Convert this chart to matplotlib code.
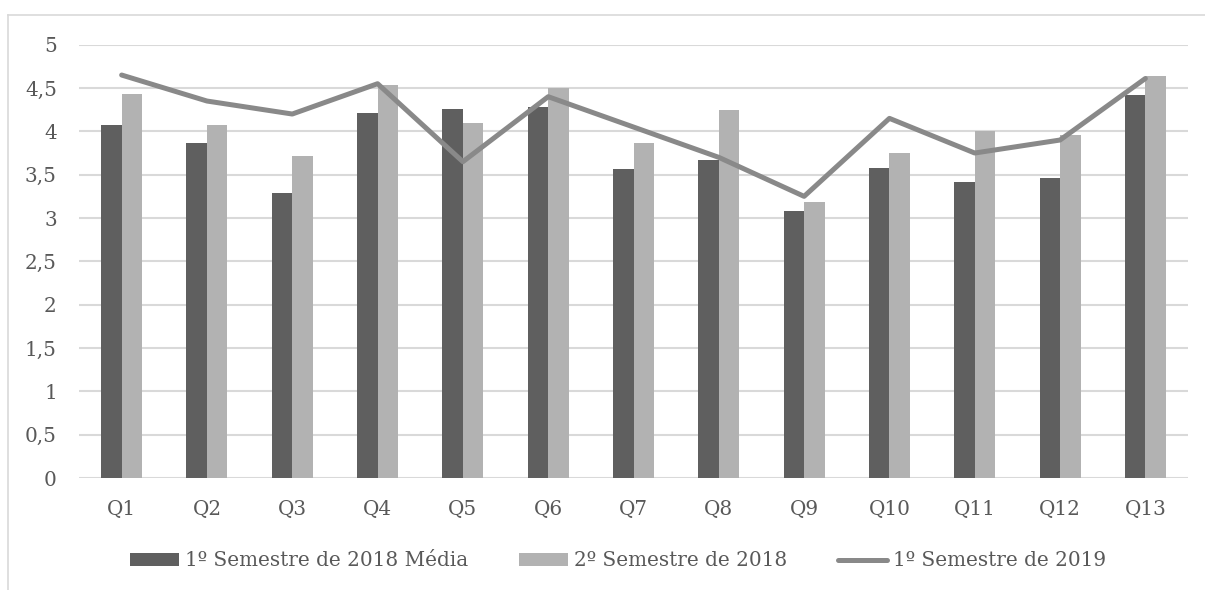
import matplotlib
matplotlib.use("Agg")
import matplotlib.pyplot as plt
import numpy as np
from matplotlib.lines import Line2D

categories = ["Q1", "Q2", "Q3", "Q4", "Q5", "Q6", "Q7", "Q8", "Q9", "Q10", "Q11", "Q12", "Q13"]
sem1_2018 = [4.07, 3.87, 3.29, 4.21, 4.26, 4.28, 3.57, 3.67, 3.08, 3.58, 3.42, 3.46, 4.42]
sem2_2018 = [4.43, 4.07, 3.71, 4.53, 4.10, 4.50, 3.86, 4.25, 3.18, 3.75, 4.00, 3.96, 4.64]
sem1_2019 = [4.65, 4.35, 4.20, 4.55, 3.65, 4.40, 4.05, 3.70, 3.25, 4.15, 3.75, 3.90, 4.61]
series_names = ["1º Semestre de 2018 Média", "2º Semestre de 2018", "1º Semestre de 2019"]
y_ticks = [0, 0.5, 1, 1.5, 2, 2.5, 3, 3.5, 4, 4.5, 5]

TEXT = "#595959"
GRID = "#d9d9d9"
DARK = "#5f5f5f"
LIGHT = "#b2b2b2"
LINE = "#898989"
FS = 14.4

plt.rcParams["font.family"] = ["DejaVu Serif"]

fig = plt.figure(figsize=(12.05, 5.90), dpi=100)
ax = fig.add_axes([79 / 1205, 1 - 478 / 590, (1188 - 79) / 1205, (478 - 44.7) / 590])

x = np.arange(len(categories))
w = 0.24
b1 = ax.bar(x - w / 2, sem1_2018, width=w, color=DARK, label=series_names[0], zorder=2)
b2 = ax.bar(x + w / 2, sem2_2018, width=w, color=LIGHT, label=series_names[1], zorder=2)
ln, = ax.plot(x, sem1_2019, color=LINE, linewidth=3.6, solid_capstyle="round",
              solid_joinstyle="round", label=series_names[2], zorder=3)

ax.set_xlim(-0.5, len(categories) - 0.5)
ax.set_ylim(0, 5)
ax.set_yticks(y_ticks)
ax.set_yticklabels([("%g" % t).replace(".", ",") for t in y_ticks])
ax.set_xticks(x)
ax.set_xticklabels(categories)
ax.tick_params(axis="both", length=0, labelsize=FS, colors=TEXT)
ax.tick_params(axis="y", pad=16)
ax.tick_params(axis="x", pad=16)
ax.grid(axis="y", color=GRID, linewidth=1.5, zorder=0)
ax.set_axisbelow(True)
for s in ax.spines.values():
    s.set_visible(False)

# outer chart frame (top and left edges)
fig.add_artist(Line2D([8 / 1205, 1.0], [1 - 15 / 590, 1 - 15 / 590], transform=fig.transFigure,
                      color=GRID, linewidth=1.2))
fig.add_artist(Line2D([8 / 1205, 8 / 1205], [0.0, 1 - 15 / 590], transform=fig.transFigure,
                      color=GRID, linewidth=1.2))

leg = fig.legend([b1, b2, ln], series_names, loc="center", bbox_to_anchor=(618 / 1205, 1 - 561 / 590),
                 ncol=3, frameon=False, fontsize=FS, handlelength=2.45, handleheight=0.65,
                 handletextpad=0.3, columnspacing=2.55, labelcolor=TEXT)

fig.savefig("out.png", dpi=100, facecolor="white")
